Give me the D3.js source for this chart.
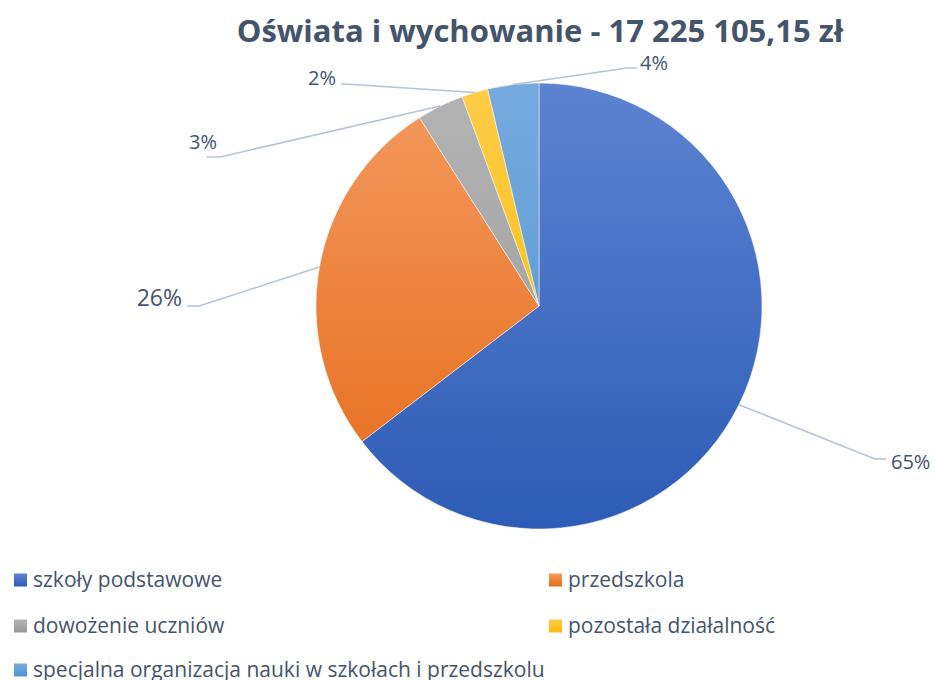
<!DOCTYPE html>
<html>
<head>
<meta charset="utf-8">
<script src="https://cdn.jsdelivr.net/npm/d3@7"></script>
<style>
  body { margin: 0; background: #fff; }
  text { font-family: "Open Sans", "Noto Sans", sans-serif; fill: #44546A; }
</style>
</head>
<body>
<div id="chart"></div>
<script>
// data
var categories = ["szkoły podstawowe", "przedszkola", "dowożenie uczniów", "pozostała działalność", "specjalna organizacja nauki w szkołach i przedszkolu"];
var shares = [64.6, 26.4, 3.4, 1.9, 3.7];
var labels = ["65%", "26%", "3%", "2%", "4%"];
var title = "Oświata i wychowanie - 17 225 105,15 zł";

// colours: [top, bottom] of each slice gradient
var colors = [["#5C83D0", "#2D5CB6"], ["#F49A60", "#E56A18"], ["#B4B4B4", "#979797"], ["#FFCC48", "#F8BB00"], ["#75AADE", "#5293D1"]];

var width = 934, height = 680;
var cx = 539, cy = 306, radius = 223;

// leader-line elbows and label anchors (relative to pie centre)
var labelLayout = [
  { elbow: [336, 153], end: [347, 153], text: [352, 156], anchor: "start", size: 20 },
  { elbow: [-340, 0], end: [-352, 0], text: [-357, -8], anchor: "end", size: 23 },
  { elbow: [-319, -149], end: [-332, -149], text: [-322, -164], anchor: "end", size: 20 },
  { elbow: [-194, -222], end: [-198, -222], text: [-203, -228], anchor: "end", size: 20 },
  { elbow: [88, -238], end: [98, -238], text: [101, -243], anchor: "start", size: 20 }
];

// legend rows (y of each row)
var legendRows = [580, 626, 670];

var svg = d3.select("#chart").append("svg")
  .attr("width", width)
  .attr("height", height);

var defs = svg.append("defs");
colors.forEach(function (c, i) {
  var grad = defs.append("linearGradient")
    .attr("id", "grad" + i)
    .attr("gradientUnits", "userSpaceOnUse")
    .attr("x1", 0).attr("y1", -radius)
    .attr("x2", 0).attr("y2", radius);
  grad.append("stop").attr("offset", "0%").attr("stop-color", c[0]);
  grad.append("stop").attr("offset", "100%").attr("stop-color", c[1]);

  var lgrad = defs.append("linearGradient")
    .attr("id", "lgrad" + i)
    .attr("x1", 0).attr("y1", 0).attr("x2", 0).attr("y2", 1);
  lgrad.append("stop").attr("offset", "0%").attr("stop-color", c[0]);
  lgrad.append("stop").attr("offset", "100%").attr("stop-color", c[1]);
});

svg.append("text")
  .attr("x", 540)
  .attr("y", 42)
  .attr("text-anchor", "middle")
  .style("font-size", "31px")
  .style("font-weight", "bold")
  .text(title);

var pie = d3.pie().sort(null).value(function (d) { return d; });
var arc = d3.arc().innerRadius(0).outerRadius(radius);
var arcs = pie(shares);

var g = svg.append("g");

g.selectAll("path.slice")
  .data(arcs)
  .enter()
  .append("path")
  .attr("class", "slice")
  .attr("transform", "translate(" + cx + "," + cy + ")")
  .attr("d", arc)
  .attr("fill", function (d, i) { return "url(#grad" + i + ")"; })
  .attr("stroke", "#fff")
  .attr("stroke-width", 0.5);

// leader lines
g.selectAll("polyline.leader")
  .data(arcs)
  .enter()
  .append("polyline")
  .attr("class", "leader")
  .attr("fill", "none")
  .attr("stroke", "#B6C2D4")
  .attr("stroke-width", 1.5)
  .attr("points", function (d, i) {
    var a = (d.startAngle + d.endAngle) / 2;
    var p0 = [cx + radius * Math.sin(a), cy - radius * Math.cos(a)];
    var L = labelLayout[i];
    return [p0, [cx + L.elbow[0], cy + L.elbow[1]], [cx + L.end[0], cy + L.end[1]]].map(function (p) { return p.join(","); }).join(" ");
  });

g.selectAll("text.pct")
  .data(arcs)
  .enter()
  .append("text")
  .attr("class", "pct")
  .attr("x", function (d, i) { return cx + labelLayout[i].text[0]; })
  .attr("y", function (d, i) { return cy + labelLayout[i].text[1]; })
  .attr("dy", "0.35em")
  .attr("text-anchor", function (d, i) { return labelLayout[i].anchor; })
  .style("font-size", function (d, i) { return labelLayout[i].size + "px"; })
  .text(function (d, i) { return labels[i]; });

// legend
var legend = svg.append("g");
var item = legend.selectAll("g.item")
  .data(categories)
  .enter()
  .append("g")
  .attr("class", "item")
  .attr("transform", function (d, i) {
    var col = i % 2, row = Math.floor(i / 2);
    return "translate(" + (14 + col * 535) + "," + legendRows[row] + ")";
  });

item.append("rect")
  .attr("x", 0).attr("y", -6.5)
  .attr("width", 13).attr("height", 13)
  .attr("fill", function (d, i) { return "url(#lgrad" + i + ")"; });

item.append("text")
  .attr("x", 19)
  .attr("y", 0)
  .attr("dy", "0.35em")
  .style("font-size", "21px")
  .text(function (d) { return d; });
</script>
</body>
</html>
